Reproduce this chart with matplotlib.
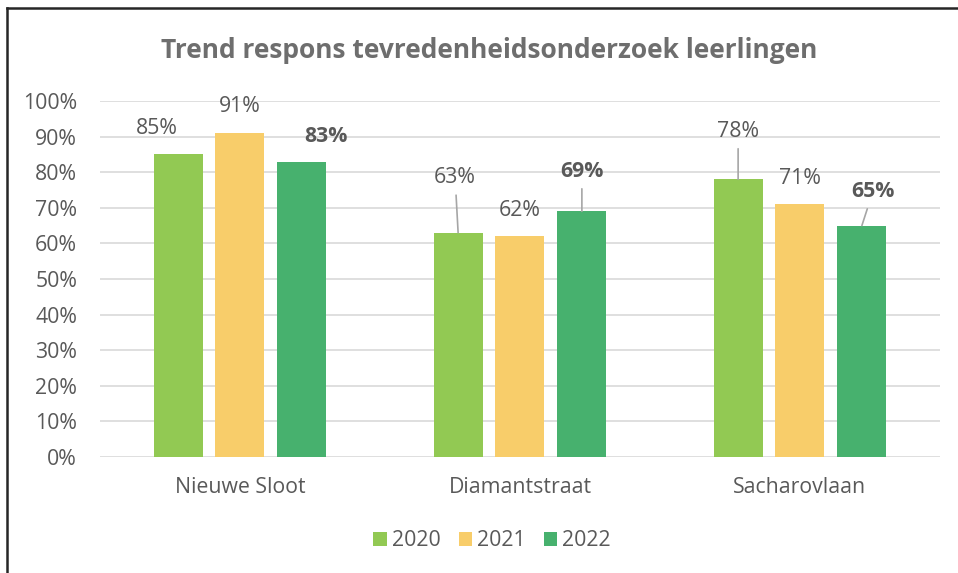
import matplotlib.pyplot as plt
import numpy as np
from matplotlib.lines import Line2D

plt.rcParams['font.family'] = ['Open Sans', 'DejaVu Sans']

# data
schools = ["Nieuwe Sloot", "Diamantstraat", "Sacharovlaan"]
years = ["2020", "2021", "2022"]
resp_2020 = [85, 63, 78]
resp_2021 = [91, 62, 71]
resp_2022 = [83, 69, 65]
colors = ["#92C953", "#F8CD6A", "#47B16E"]

# label offsets in pixels from top of bar (dx, dy, leader line)
label_pos = [
    [(-21, 26, False), (-3, 55, True), (0, 48, True)],
    [(0, 27, False), (0, 26, False), (0, 26, False)],
    [(24, 25, False), (0, 40, True), (11, 34, True)],
]

txt = "#595959"
fs = 15.3

fig = plt.figure(figsize=(9.58, 5.73), dpi=100)
ax = fig.add_axes([100/958, 1-457/573, 840/958, 356/573])

x = np.arange(len(schools))
w = 0.175
step = 0.221
series = [resp_2020, resp_2021, resp_2022]
for i, vals in enumerate(series):
    xs = x + (i-1)*step
    ax.bar(xs, vals, width=w, color=colors[i], zorder=3, label=years[i])
    for j, v in enumerate(vals):
        dx, dy, lead = label_pos[i][j]
        kw = {}
        if lead:
            kw['arrowprops'] = dict(arrowstyle='-', color='#A6A6A6', lw=1.2,
                                    shrinkA=3, shrinkB=0)
        ax.annotate(f"{v}%", xy=(xs[j], v), xytext=(dx, dy),
                    textcoords='offset pixels', ha='center', va='center',
                    fontsize=fs, color=txt,
                    fontweight='bold' if i == 2 else 'normal', **kw)

ax.set_xlim(-0.5, 2.5)
ax.set_ylim(0, 100)
ax.set_yticks(np.arange(0, 101, 10))
ax.set_yticklabels([f"{t}%" for t in range(0, 101, 10)])
ax.set_xticks(x)
ax.set_xticklabels(schools)
ax.tick_params(axis='both', length=0, labelsize=fs, colors=txt)
ax.tick_params(axis='x', pad=14.5)
ax.tick_params(axis='y', pad=16.5)
ax.grid(axis='y', color='#D9D9D9', lw=1.2, zorder=0)
for s in ax.spines.values():
    s.set_visible(False)

fig.text(489/958, 1-50/573, "Trend respons tevredenheidsonderzoek leerlingen",
         ha='center', va='center', fontsize=19, fontweight='bold', color='#6E6E6E')

fig.legend(loc='center', bbox_to_anchor=(492/958, 1-541/573), ncol=3,
           frameon=False, fontsize=fs, labelcolor=txt, handlelength=0.65,
           handleheight=0.65, handletextpad=0.22, columnspacing=0.85)

# border
fig.add_artist(Line2D([7/958, 1], [1-8/573, 1-8/573], color='#262626', lw=1.8))
fig.add_artist(Line2D([7/958, 7/958], [0, 1-8/573], color='#262626', lw=1.8))

fig.savefig("out.png", dpi=100)
